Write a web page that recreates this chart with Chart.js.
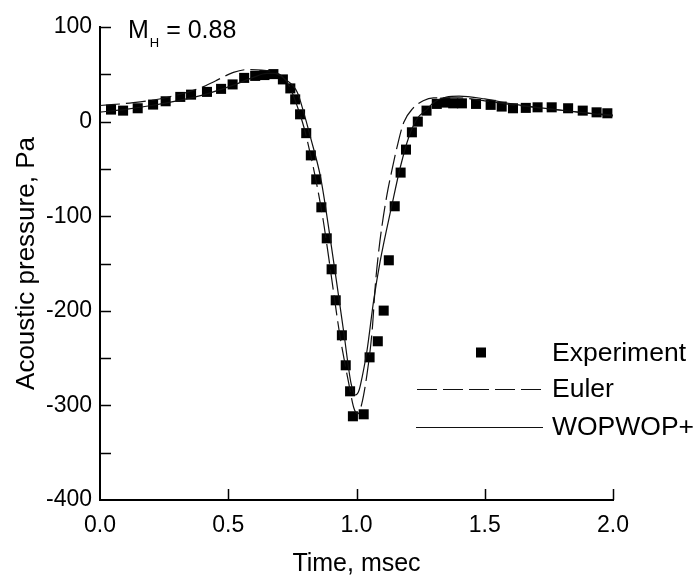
<!DOCTYPE html>
<html><head><meta charset="utf-8">
<script src="https://cdn.jsdelivr.net/npm/chart.js@4/dist/chart.umd.min.js"></script>
<style>html,body{margin:0;padding:0;background:#fff;} canvas{display:block;}</style>
</head><body>
<canvas id="c" width="696" height="577"></canvas>
<script>
// ---- data ----
const expT = [0.043,0.090,0.147,0.207,0.256,0.313,0.355,0.417,0.472,0.517,0.562,0.605,0.641,0.676,0.713,0.742,0.761,0.780,0.804,0.822,0.843,0.863,0.884,0.903,0.919,0.943,0.958,0.975,0.986,1.028,1.051,1.083,1.106,1.126,1.149,1.172,1.193,1.216,1.239,1.273,1.313,1.346,1.377,1.411,1.466,1.523,1.566,1.610,1.660,1.706,1.761,1.825,1.882,1.936,1.978];
const expP = [12.7,11.6,14.1,18.0,21.5,26.1,28.5,31.4,34.6,39.3,46.2,48.3,49.2,50.2,44.6,35.1,23.5,7.7,-12.2,-35.7,-61.1,-90.6,-123.4,-156.1,-188.9,-225.9,-257.6,-285.1,-311.5,-309.4,-249.2,-232.2,-199.8,-146.6,-89.5,-53.9,-29.6,-11.3,0,11.6,18.7,20.1,19.3,19.3,18.7,17.7,15.9,14.1,14.5,15.1,15.1,14.1,11.6,9.8,8.8];

const eulerT = [0,0.13,0.26,0.39,0.45,0.52,0.575,0.63,0.68,0.71,0.737,0.76,0.795,0.82,0.847,0.87,0.886,0.91,0.934,0.97,0.99,1.005,1.02,1.041,1.061,1.074,1.087,1.1,1.119,1.14,1.158,1.184,1.22,1.26,1.3,1.4,1.5,1.6,1.7,1.8,1.9,2.0];
const eulerP = [17,20,25.5,35.5,43,52,55,54.5,52,48,38,23,-6,-34,-69,-104,-133,-179,-224,-277,-303,-309,-299,-267,-221,-171,-136,-109,-77,-49,-27,-1,14,22,25,25,22,18,15,12,9,7];

const wopT = [0,0.1,0.2,0.3,0.4,0.52,0.6,0.65,0.68,0.72,0.769,0.795,0.821,0.86,0.899,0.93,0.951,0.979,0.996,1.01,1.022,1.041,1.067,1.092,1.139,1.171,1.203,1.236,1.275,1.3,1.35,1.4,1.5,1.6,1.7,1.8,1.9,2.0];
const wopP = [10,13,17,22,28,38.5,47,51,51,45,31,9,-17,-59,-126,-184,-224,-277,-289,-284,-270,-242,-189,-148,-87,-48,-17,3,13,20,26,27,24,19,15,12,9,6];

const xTickValues = [0,0.5,1,1.5,2];
const xTickLabels = ['0.0','0.5','1.0','1.5','2.0'];
const yTickValues = [-400,-300,-200,-100,0,100];
const yTickLabels = ['-400','-300','-200','-100','0','100'];
const yMinorValues = [-350,-250,-150,-50,50];
const seriesNames = ['Experiment','Euler','WOPWOP+'];
const titleMain = 'M', titleSub = 'H', titleRest = ' = 0.88';
const xTitle = 'Time, msec', yTitle = 'Acoustic pressure, Pa';

// ---- chart ----
const FONT = '"Liberation Sans", Arial, Helvetica, sans-serif';
Chart.defaults.font.family = FONT;
Chart.defaults.color = '#000';

const toXY = (xs, ys) => xs.map((x, i) => ({x: x, y: ys[i]}));

const inwardTicks = {
  id: 'inwardTicks',
  afterDatasetsDraw(chart) {
    const ctx = chart.ctx, xs = chart.scales.x, ys = chart.scales.y;
    const a = chart.chartArea;
    ctx.save();
    ctx.strokeStyle = '#000';
    ctx.lineWidth = 1.5;
    ctx.beginPath();
    const L = 11;
    xTickValues.forEach(v => {
      if (v === 0) return;
      const px = Math.round(xs.getPixelForValue(v)) + 0.5;
      ctx.moveTo(px, a.bottom); ctx.lineTo(px, a.bottom - L);
    });
    yTickValues.concat(yMinorValues).forEach(v => {
      if (v === -400) return;
      const py = Math.round(ys.getPixelForValue(v)) + 0.5;
      ctx.moveTo(a.left, py); ctx.lineTo(a.left + L, py);
    });
    ctx.stroke();

    // title with subscript
    ctx.fillStyle = '#000';
    ctx.textBaseline = 'middle';
    ctx.textAlign = 'left';
    let x = 128;
    ctx.font = '25px ' + FONT;
    ctx.fillText(titleMain, x, 31);
    x += ctx.measureText(titleMain).width + 1;
    ctx.font = '13px ' + FONT;
    ctx.fillText(titleSub, x, 43);
    x += ctx.measureText(titleSub).width;
    ctx.font = '25px ' + FONT;
    ctx.fillText(titleRest, x, 31);

    // legend
    const ds = chart.data.datasets;
    const rows = [352.5, 389, 427];
    ctx.font = '26.5px ' + FONT;
    ctx.fillStyle = ds[0].pointBackgroundColor;
    ctx.fillRect(476, rows[0] - 5, 10, 10);
    ctx.strokeStyle = ds[1].borderColor;
    ctx.lineWidth = ds[1].borderWidth;
    ctx.setLineDash(ds[1].borderDash);
    ctx.beginPath(); ctx.moveTo(417, rows[1] + 0.5); ctx.lineTo(543, rows[1] + 0.5); ctx.stroke();
    ctx.setLineDash([]);
    ctx.strokeStyle = ds[2].borderColor;
    ctx.lineWidth = ds[2].borderWidth;
    ctx.beginPath(); ctx.moveTo(416, rows[2] + 0.5); ctx.lineTo(543, rows[2] + 0.5); ctx.stroke();
    ctx.fillStyle = '#000';
    seriesNames.forEach((n, i) => ctx.fillText(n, 552, rows[i] + 1));
    ctx.restore();
  }
};

new Chart(document.getElementById('c'), {
  type: 'scatter',
  data: {
    datasets: [
      {label: seriesNames[0], data: toXY(expT, expP), showLine: false,
       pointStyle: 'rect', pointRadius: 7.1, pointHoverRadius: 7.1,
       pointBackgroundColor: '#000', pointBorderColor: '#000', pointBorderWidth: 0, order: 2},
      {label: seriesNames[1], data: toXY(eulerT, eulerP), showLine: true,
       borderColor: '#111', borderWidth: 1.2, borderDash: [20, 6], pointRadius: 0,
       cubicInterpolationMode: 'monotone', fill: false, order: 1},
      {label: seriesNames[2], data: toXY(wopT, wopP), showLine: true,
       borderColor: '#111', borderWidth: 1.2, pointRadius: 0,
       cubicInterpolationMode: 'monotone', fill: false, order: 1}
    ]
  },
  options: {
    responsive: false, animation: false, devicePixelRatio: 1,
    layout: {padding: {left: 0, top: 27, right: 83, bottom: 0}},
    plugins: {legend: {display: false}, tooltip: {enabled: false}},
    scales: {
      x: {
        type: 'linear', min: 0, max: 2,
        afterBuildTicks: s => { s.ticks = xTickValues.map(v => ({value: v})); },
        afterFit: s => { s.height = 77; },
        ticks: {font: {size: 23}, color: '#000', padding: 12, maxRotation: 0, autoSkip: false,
          callback: (v) => { const i = xTickValues.indexOf(v); return i >= 0 ? xTickLabels[i] : ''; }},
        grid: {display: false, drawTicks: false},
        border: {display: true, color: '#000', width: 2},
        title: {display: true, text: xTitle, font: {size: 25, lineHeight: 1}, color: '#000', padding: 0}
      },
      y: {
        type: 'linear', min: -400, max: 100,
        afterBuildTicks: s => { s.ticks = yTickValues.map(v => ({value: v})); },
        afterFit: s => { s.width = 100; },
        ticks: {font: {size: 23}, color: '#000', padding: 8, autoSkip: false,
          callback: (v) => { const i = yTickValues.indexOf(v); return i >= 0 ? yTickLabels[i] : ''; }},
        grid: {display: false, drawTicks: false},
        border: {display: true, color: '#000', width: 2},
        title: {display: true, text: yTitle, font: {size: 26, lineHeight: 1}, color: '#000', padding: {top: 14, bottom: 0}}
      }
    }
  },
  plugins: [inwardTicks]
});
</script>
</body></html>
